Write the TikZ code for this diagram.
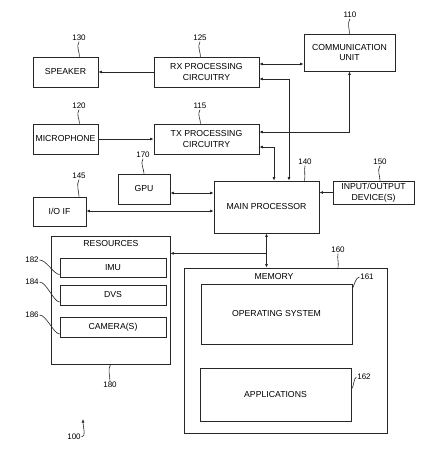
\documentclass[tikz,border=0pt]{standalone}
\usepackage{fontspec}
\setmainfont{Liberation Sans}
\usetikzlibrary{arrows.meta,calc}
\begin{document}
\begin{tikzpicture}[x=1pt,y=-1pt,
  line width=0.7pt, draw=black!85,
  box/.style={draw=black!85, rectangle, inner sep=0pt, align=center, font=\fontsize{8.7}{10.5}\selectfont},
  txt/.style={inner sep=0pt, font=\fontsize{8.7}{10.5}\selectfont},
  num/.style={inner sep=0.5pt, font=\fontsize{8}{9}\selectfont},
  lead/.style={line width=0.6pt, draw=black!85},
  conn/.style={line width=0.7pt, draw=black!85},
  tip/.tip={Latex[length=3.6pt,width=3pt]},
  one/.style={conn,-tip},
  two/.style={conn,tip-tip}]
\useasboundingbox (0,0) rectangle (445,466);
% boxes
\node[box, minimum width=65pt, minimum height=30pt] (speaker) at (65.5,72) {SPEAKER};
\node[box, minimum width=105pt, minimum height=30pt] (rx) at (206.5,72) {RX PROCESSING\\CIRCUITRY};
\node[box, minimum width=91pt, minimum height=37pt] (comm) at (349.5,52.5) {COMMUNICATION\\UNIT};
\node[box, minimum width=65pt, minimum height=30pt] (mic) at (65.5,139) {MICROPHONE};
\node[box, minimum width=105pt, minimum height=30pt] (tx) at (206.5,139) {TX PROCESSING\\CIRCUITRY};
\node[box, minimum width=52pt, minimum height=30pt] (gpu) at (144,189) {GPU};
\node[box, minimum width=105pt, minimum height=52pt] (main) at (266.5,207) {MAIN PROCESSOR};
\node[box, minimum width=81pt, minimum height=23pt] (iodev) at (373.5,192.5) {INPUT/OUTPUT\\DEVICE(S)};
\node[box, minimum width=53pt, minimum height=29pt] (ioif) at (59.5,211.5) {I/O IF};
\node[box, minimum width=119pt, minimum height=128pt] (res) at (110.5,300) {};
\node[txt] (restitle) at (111,244) {RESOURCES};
\node[box, minimum width=106pt, minimum height=19pt] (imu) at (113,267.5) {IMU};
\node[box, minimum width=106pt, minimum height=20pt] (dvs) at (113,295) {DVS};
\node[box, minimum width=106pt, minimum height=20pt] (cam) at (113,327) {CAMERA(S)};
\node[box, minimum width=203pt, minimum height=165pt] (mem) at (285.5,350.5) {};
\node[txt] (memtitle) at (274,277) {MEMORY};
\node[box, minimum width=151pt, minimum height=60pt] (os) at (276.5,314) {OPERATING SYSTEM};
\node[box, minimum width=151pt, minimum height=53pt] (apps) at (275.5,394.5) {APPLICATIONS};
% connectors
\draw[one] (rx.west) -- (speaker.east);
\draw[two] (rx.east |- 0,64) -- (comm.west |- 0,64);
\draw[one] (mic.east) -- (tx.west);
\draw[two] (rx.east |- 0,79) -| ($(main.north)+(22.5,0)$);
\draw[two] (tx.east |- 0,147) -| ($(main.north)+(7.5,0)$);
\draw[two] (tx.east |- 0,132) -| (comm.south);
\draw[two] (gpu.east |- 0,193) -- (main.west |- 0,193);
\draw[two] (ioif.east |- 0,211) -- (main.west |- 0,211);
\draw[one] (iodev.west) -- (main.east |- iodev.west);
\draw[two] (main.south) -- (mem.north -| main.south);
\coordinate (br) at ($(main.south)+(0,20)$);
\draw[one] (br) -- (res.east |- br);
% reference numerals
\node[num] (n110) at (350,15) {110};
\node[num] (n130) at (79,38) {130};
\node[num] (n125) at (200,38) {125};
\node[num] (n120) at (79,106) {120};
\node[num] (n115) at (200,106) {115};
\node[num] (n170) at (143,155) {170};
\node[num] (n140) at (305,162) {140};
\node[num] (n150) at (380,162) {150};
\node[num] (n145) at (79,176) {145};
\node[num] (n160) at (338,250) {160};
\node[num] (n161) at (367,277) {161};
\node[num] (n162) at (364,377) {162};
\node[num] (n182) at (32,260) {182};
\node[num] (n184) at (32,282) {184};
\node[num] (n186) at (32,315) {186};
\node[num] (n180) at (110,385) {180};
\node[num] (n100) at (74,437) {100};
% leaders
\draw[lead] (n110.south) .. controls +(-3,5) and +(0,-5) .. (comm.north);
\draw[lead] (n130.south) .. controls +(-3,5) and +(0,-5) .. ($(speaker.north)+(14,0)$);
\draw[lead] (n125.south) .. controls +(-3,5) and +(0,-5) .. ($(rx.north)+(-6,0)$);
\draw[lead] (n120.south) .. controls +(-3,5) and +(0,-5) .. ($(mic.north)+(14,0)$);
\draw[lead] (n115.south) .. controls +(-3,5) and +(0,-5) .. ($(tx.north)+(-6,0)$);
\draw[lead] (n170.south) .. controls +(-3,5) and +(0,-5) .. ($(gpu.north)+(0,0)$);
\draw[lead] (n140.south) .. controls +(-1,5) and +(1,-5) .. ($(main.north)+(38,0)$);
\draw[lead] (n150.south) .. controls +(-3,5) and +(0,-5) .. ($(iodev.north)+(6.5,0)$);
\draw[lead] (n145.south) .. controls +(-3,5) and +(0,-5) .. ($(ioif.north)+(19.5,0)$);
\draw[lead] (n160.south) .. controls +(-1,5) and +(1,-5) .. ($(mem.north)+(52.5,0)$);
\draw[lead] (n161.west) .. controls +(-4,0) and +(2,-3) .. ($(os.north east)+(0,5)$);
\draw[lead] (n162.west) .. controls +(-3,1) and +(3,-4) .. ($(apps.east)+(0,-5)$);
\draw[lead] (n182.east) .. controls +(7,0) and +(-6,0) .. ($(imu.west)+(0,7)$);
\draw[lead] (n184.east) .. controls +(7,0) and +(-6,0) .. ($(dvs.west)+(0,7)$);
\draw[lead] (n186.east) .. controls +(7,0) and +(-6,0) .. ($(cam.west)+(0,7)$);
\draw[lead] (res.south) .. controls +(-3,5) and +(0,-5) .. (n180.north);
\coordinate (tip100) at (83,419);
\draw[lead,-tip] (n100.east) .. controls +(5,0) and +(0,8) .. (tip100);
\end{tikzpicture}
\end{document}
